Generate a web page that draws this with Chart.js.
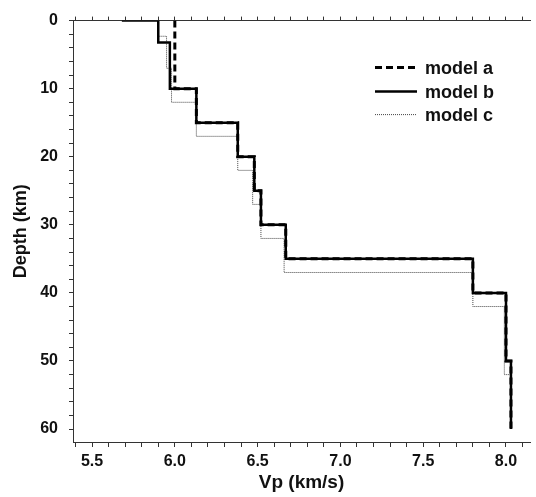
<!DOCTYPE html>
<html>
<head>
<meta charset="utf-8">
<script src="https://cdn.jsdelivr.net/npm/chart.js@4/dist/chart.umd.min.js"></script>
<style>
  html, body { margin: 0; padding: 0; background: #fff; }
  #wrap { width: 536px; height: 497px; }
</style>
</head>
<body>
<div id="wrap"><canvas id="vp-chart" width="536" height="497"></canvas></div>
<script>
// step profiles, velocity (km/s) against depth (km)
const vpA = [6.0, 6.0, 6.13, 6.13, 6.38, 6.38, 6.48, 6.48, 6.52, 6.52, 6.67, 6.67, 7.8, 7.8, 8.0, 8.0, 8.03, 8.03];
const depthA = [0, 10, 10, 15, 15, 20, 20, 25, 25, 30, 30, 35, 35, 40, 40, 50, 50, 60];

const vpB = [5.68, 5.9, 5.9, 5.97, 5.97, 6.13, 6.13, 6.38, 6.38, 6.48, 6.48, 6.52, 6.52, 6.67, 6.67, 7.8, 7.8, 8.0, 8.0, 8.03, 8.03];
const depthB = [0, 0, 3.2, 3.2, 10, 10, 15, 15, 20, 20, 25, 25, 30, 30, 35, 35, 40, 40, 50, 50, 60];

const vpC = [5.9, 5.9, 5.95, 5.95, 5.98, 5.98, 6.13, 6.13, 6.38, 6.38, 6.47, 6.47, 6.52, 6.52, 6.66, 6.66, 7.8, 7.8, 7.99, 7.99, 8.03, 8.03];
const depthC = [0, 2.3, 2.3, 7, 7, 12, 12, 17, 17, 22, 22, 27, 27, 32, 32, 37, 37, 42, 42, 52, 52, 60];

const modelNames = ["model a", "model b", "model c"];

const xMin = 5.385, xMax = 8.145;
const yMin = 0, yMax = 61.9;
const xTickValues = [5.4, 5.5, 5.6, 5.7, 5.8, 5.9, 6.0, 6.1, 6.2, 6.3, 6.4, 6.5, 6.6, 6.7, 6.8, 6.9,
  7.0, 7.1, 7.2, 7.3, 7.4, 7.5, 7.6, 7.7, 7.8, 7.9, 8.0, 8.1];
const xLabelValues = [5.5, 6.0, 6.5, 7.0, 7.5, 8.0];
const yTickValues = [0, 2, 4, 6, 8, 10, 12, 14, 16, 18, 20, 22, 24, 26, 28, 30, 32, 34, 36, 38,
  40, 42, 44, 46, 48, 50, 52, 54, 56, 58, 60];
const yLabelValues = [0, 10, 20, 30, 40, 50, 60];

const toPoints = (xs, ys) => xs.map((x, i) => ({ x: x, y: ys[i] }));

const FONT = "'Liberation Sans', Arial, sans-serif";
const INK = "#111";

const isLabel = (list, v) => list.some((l) => Math.abs(l - v) < 1e-6);

const axisBorder = { color: "#333", width: 1, dash: [2, 1] };
const tickGrid = { drawOnChartArea: false, drawTicks: true, tickLength: 4, color: "#333", lineWidth: 1 };

// legend drawn inside the plot, top right
const insideLegend = {
  id: "insideLegend",
  afterDraw(chart) {
    const { ctx, chartArea } = chart;
    const x0 = chartArea.right - 155;
    const rows = [chartArea.top + 47, chartArea.top + 71, chartArea.top + 94];
    ctx.save();
    chart.data.datasets.forEach((ds, i) => {
      const y = rows[i];
      ctx.beginPath();
      ctx.strokeStyle = ds.borderColor;
      ctx.lineWidth = ds.borderWidth;
      ctx.setLineDash(ds.borderDash || []);
      ctx.moveTo(x0, y);
      ctx.lineTo(x0 + 42, y);
      ctx.stroke();
      ctx.setLineDash([]);
      ctx.fillStyle = INK;
      ctx.font = "bold 18px " + FONT;
      ctx.textAlign = "left";
      ctx.textBaseline = "middle";
      ctx.fillText(ds.label, x0 + 50, y + 1);
    });
    ctx.restore();
  },
};

const ctx = document.querySelector("#vp-chart").getContext("2d");

new Chart(ctx, {
  type: "scatter",
  data: {
    datasets: [
      {
        label: modelNames[0],
        data: toPoints(vpA, depthA),
        showLine: true,
        borderColor: "#000",
        borderWidth: 3,
        borderDash: [7, 4],
        pointRadius: 0,
        order: 0,
      },
      {
        label: modelNames[1],
        data: toPoints(vpB, depthB),
        showLine: true,
        borderColor: "#000",
        borderWidth: 2.5,
        pointRadius: 0,
        order: 1,
      },
      {
        label: modelNames[2],
        data: toPoints(vpC, depthC),
        showLine: true,
        borderColor: "#444",
        borderWidth: 1,
        borderDash: [1, 1],
        pointRadius: 0,
        order: 2,
      },
    ],
  },
  options: {
    responsive: false,
    animation: false,
    layout: { padding: { left: 0, right: 6, top: 0, bottom: 0 } },
    plugins: {
      legend: { display: false },
      tooltip: { enabled: false },
    },
    scales: {
      x: {
        type: "linear",
        position: "bottom",
        min: xMin,
        max: xMax,
        afterBuildTicks: (scale) => {
          scale.ticks = xTickValues.map((v) => ({ value: v }));
        },
        afterFit: (scale) => {
          scale.height = 55;
        },
        border: axisBorder,
        grid: { ...tickGrid, tickLength: 5 },
        ticks: {
          autoSkip: false,
          maxRotation: 0,
          padding: 5,
          color: INK,
          font: { family: FONT, size: 16, weight: "bold" },
          callback: (v) => (isLabel(xLabelValues, v) ? Number(v).toFixed(1) : ""),
        },
        title: {
          display: true,
          text: "Vp (km/s)",
          color: INK,
          font: { family: FONT, size: 19, weight: "bold" },
          padding: { top: 0, bottom: 3 },
        },
      },
      xTop: {
        type: "linear",
        position: "top",
        min: xMin,
        max: xMax,
        afterBuildTicks: (scale) => {
          scale.ticks = xTickValues.map((v) => ({ value: v }));
        },
        afterFit: (scale) => {
          scale.height = 16;
        },
        border: axisBorder,
        grid: tickGrid,
        ticks: { display: false },
      },
      y: {
        type: "linear",
        position: "left",
        reverse: true,
        min: yMin,
        max: yMax,
        afterBuildTicks: (scale) => {
          scale.ticks = yTickValues.map((v) => ({ value: v }));
        },
        afterFit: (scale) => {
          scale.width = 73;
        },
        border: axisBorder,
        grid: tickGrid,
        ticks: {
          autoSkip: false,
          padding: 11,
          color: INK,
          font: { family: FONT, size: 16, weight: "bold" },
          callback: (v) => (isLabel(yLabelValues, v) ? String(v) : ""),
        },
        title: {
          display: true,
          text: "Depth (km)",
          color: INK,
          font: { family: FONT, size: 18, weight: "bold" },
          padding: { top: 10, bottom: 0 },
        },
      },
    },
  },
  plugins: [insideLegend],
});
</script>
</body>
</html>
